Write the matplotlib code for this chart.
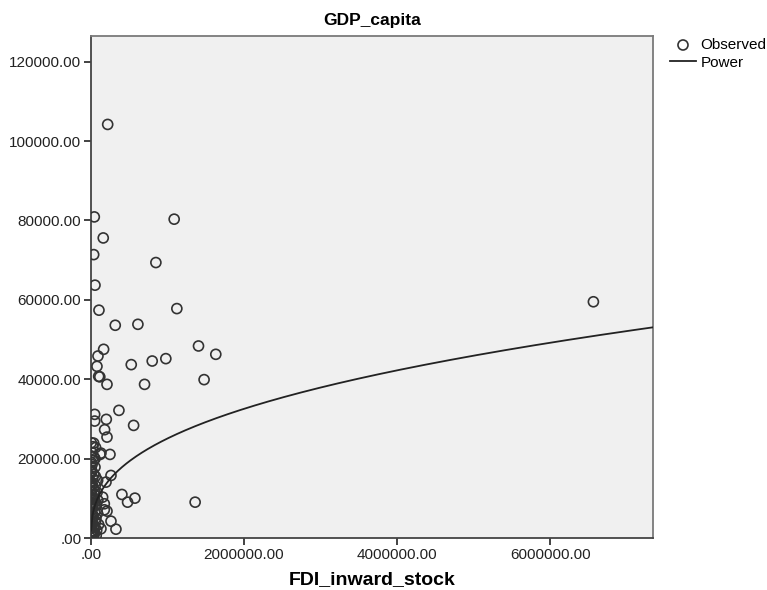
import numpy as np
import matplotlib.pyplot as plt
from matplotlib.ticker import FuncFormatter

plt.rcParams['font.family'] = ['Liberation Sans', 'DejaVu Sans']

# FDI inward stock (x) and GDP per capita (y)
fdi_spread = [218e3, 43e3, 1087e3, 160e3, 35e3, 848e3, 52e3, 6566e3, 104e3, 1122e3,
              317e3, 613e3, 165e3, 1405e3, 1631e3, 91e3, 978e3, 800e3, 526e3, 78e3,
              100e3, 115e3, 1478e3, 209e3, 700e3, 365e3, 48e3, 48e3, 200e3, 557e3,
              178e3, 209e3, 35e3, 130e3, 120e3, 248e3, 52e3, 52e3, 261e3, 196e3,
              87e3, 404e3, 478e3, 574e3, 1361e3, 152e3, 174e3, 209e3, 174e3, 261e3,
              326e3, 130e3]
gdp_spread = [104200, 80900, 80330, 75600, 71400, 69400, 63700, 59520, 57400, 57800,
              53600, 53840, 47540, 48380, 46280, 45850, 45190, 44590, 43680, 43250,
              40730, 40600, 39900, 38710, 38710, 32160, 31150, 29460, 29890, 28370,
              27290, 25420, 23900, 21390, 21060, 21060, 19970, 17860, 15760, 14080,
              14500, 10970, 9030, 10040, 9030, 10290, 8620, 6770, 7100, 4240,
              2220, 2320]

# the dense pile of small economies near the origin
fdi_cluster = [5e3, 10e3, 20e3, 3e3, 40e3, 8e3, 60e3, 15e3, 30e3, 2e3,
               50e3, 12e3, 25e3, 70e3, 6e3, 35e3, 18e3, 45e3, 4e3, 28e3,
               55e3, 9e3, 22e3, 38e3, 7e3, 14e3, 30e3, 11e3, 60e3, 3e3,
               42e3, 75e3, 1e3, 33e3, 65e3, 85e3, 90e3, 48e3, 16e3, 80e3,
               26e3, 52e3, 100e3, 13e3, 58e3, 1e3, 36e3, 24e3, 5e3, 17e3,
               2e3, 44e3, 9e3, 68e3, 21e3, 4e3, 31e3, 12e3, 6e3, 27e3]
gdp_cluster = [500, 1200, 1800, 2500, 3000, 3500, 4200, 4800, 5500, 6000,
               6500, 7200, 7800, 8300, 9000, 9600, 10200, 11000, 11800, 12500,
               13200, 14000, 15000, 16000, 17000, 18500, 19500, 21500, 22800, 24000,
               1000, 2000, 3800, 700, 5000, 6200, 9500, 12000, 13500, 11500,
               300, 2600, 3400, 8000, 15500, 16500, 20500, 23000, 1500, 4400,
               7600, 9900, 10800, 600, 5900, 13000, 2900, 16800, 19000, 8700]

fdi = np.array(fdi_spread + fdi_cluster)
gdp = np.array(gdp_spread + gdp_cluster)

# power fit y = a * x^b
fit_a = 139.1
fit_b = 0.376

fig = plt.figure(figsize=(7.67, 5.9), dpi=100)
ax = fig.add_axes([91 / 767, 1 - 538 / 590, 562 / 767, 502 / 590])
ax.set_facecolor('#f0f0f0')

ax.scatter(fdi, gdp, s=52, facecolors='none', edgecolors='#333333',
           linewidths=1.2, label='Observed', zorder=3)

xmax = 7.345e6
xs = np.linspace(1e3, xmax, 400)
ax.plot(xs, fit_a * xs ** fit_b, color='#222222', lw=1.3, label='Power', zorder=4)

ax.set_xlim(0, xmax)
ax.set_ylim(0, 126480)
ax.set_xticks([0, 2e6, 4e6, 6e6])
ax.set_yticks(range(0, 120001, 20000))

fmt = FuncFormatter(lambda v, p: '.00' if v == 0 else f'{v:.2f}')
ax.xaxis.set_major_formatter(fmt)
ax.yaxis.set_major_formatter(fmt)
ax.tick_params(labelsize=11, colors='#222222', length=5, width=1.2,
               direction='out', pad=2)

for side in ['left', 'bottom']:
    ax.spines[side].set_color('#444444')
    ax.spines[side].set_linewidth(1.3)
for side in ['top', 'right']:
    ax.spines[side].set_color('#7a7a7a')
    ax.spines[side].set_linewidth(1.3)

ax.set_title('GDP_capita', fontsize=12.5, fontweight='bold', pad=8)
ax.set_xlabel('FDI_inward_stock', fontsize=14, fontweight='bold', labelpad=7)

fig.legend(loc='upper left', bbox_to_anchor=(670 / 767, 1 - 38 / 590),
           frameon=False, fontsize=11, handlelength=1.7, handletextpad=0.3,
           borderpad=0, borderaxespad=0, labelspacing=0.25)

fig.savefig('out.png', dpi=100)
